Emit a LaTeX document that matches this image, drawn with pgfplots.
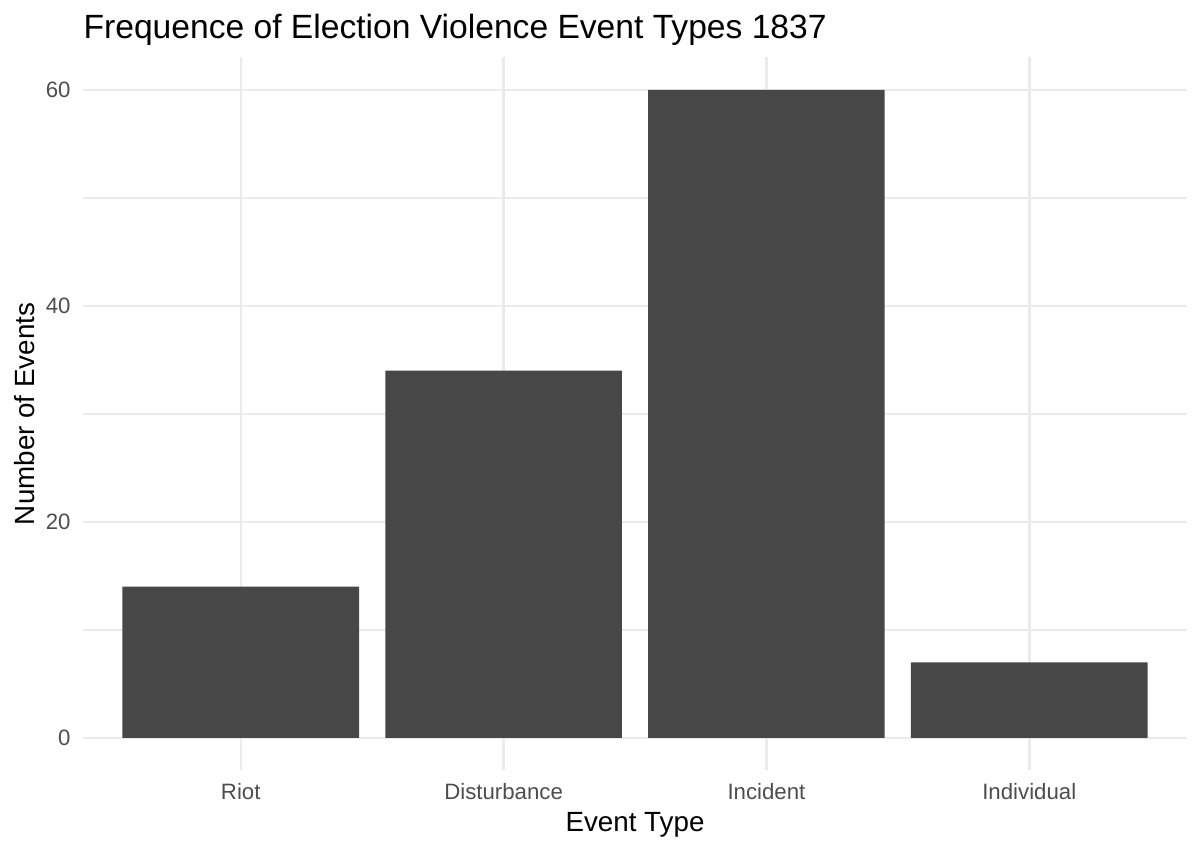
\documentclass[border=0pt]{standalone}
\usepackage{fontspec}
\setmainfont{Liberation Sans}
\usepackage{pgfplots}
\pgfplotsset{compat=1.18}
\definecolor{barc}{HTML}{474747}
\definecolor{gridc}{HTML}{EBEBEB}
\definecolor{tickc}{HTML}{4D4D4D}
\begin{document}
\begin{tikzpicture}
\begin{axis}[
  scale only axis,
  width=397.4pt, height=256.6pt,
  xmin=0.4, xmax=4.6,
  ymin=-3, ymax=63,
  xtick={1,2,3,4},
  xticklabels={Riot,Disturbance,Incident,Individual},
  ytick={0,20,40,60},
  minor ytick={10,30,50},
  xmajorgrids, ymajorgrids, yminorgrids,
  major grid style={draw=gridc, line width=0.9pt},
  minor grid style={draw=gridc, line width=0.5pt},
  axis line style={draw=none},
  major tick length=0pt, minor tick length=0pt,
  tick style={draw=none},
  /pgf/number format/assume math mode=true,
  ticklabel style={font=\fontsize{8}{9.5}\selectfont, text=tickc},
  xticklabel style={inner sep=0pt, anchor=north, yshift=-4.5pt},
  yticklabel style={inner sep=0pt, anchor=east, xshift=-4.3pt},
  every axis title shift=0pt,
  title={Frequence of Election Violence Event Types 1837},
  title style={font=\fontsize{12.1}{14}\selectfont, at={(0,1)}, anchor=base west, yshift=7pt, inner sep=0pt},
  xlabel={Event Type},
  xlabel style={font=\fontsize{10}{12}\selectfont, at={(0.5,0)}, anchor=base, yshift=-22pt, inner sep=0pt},
  ylabel={Number of Events},
  ylabel style={font=\fontsize{10}{12}\selectfont, at={(0,0.5)}, anchor=base, yshift=17.3pt, inner sep=0pt},
]
\addplot[ybar, bar width=0.9, fill=barc, draw=none]
  coordinates {(1,14) (2,34) (3,60) (4,7)};
\end{axis}
\pgfresetboundingbox
\useasboundingbox ([shift={(-29.9pt,-28.7pt)}]current axis.south west) rectangle ([shift={(4.7pt,20.7pt)}]current axis.north east);
\end{tikzpicture}
\end{document}
